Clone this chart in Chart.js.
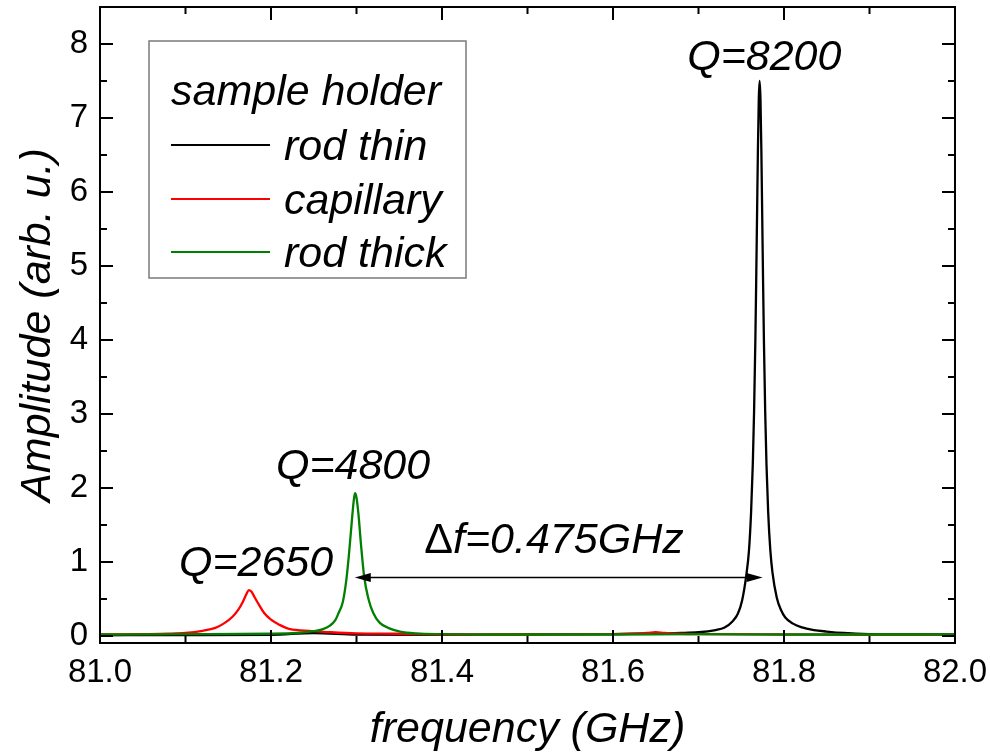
<!DOCTYPE html>
<html>
<head>
<meta charset="utf-8">
<script src="https://cdn.jsdelivr.net/npm/chart.js@4.4.1/dist/chart.umd.min.js"></script>
<style>
  html,body{margin:0;padding:0;background:#fff}
  canvas{display:block}
</style>
</head>
<body>
<canvas id="resChart" width="990" height="756"></canvas>
<script>
// ---- datos ----
const seriesNames  = ["rod thin", "capillary", "rod thick"];
const seriesColors = ["#000000", "#ff0000", "#008000"];

// rod thin (negro), pico en ~81.77 GHz
const freqThin = [81.00, 81.10, 81.20, 81.25, 81.30, 81.40, 81.50, 81.60, 81.65, 81.68, 81.70,
  81.72, 81.73, 81.74, 81.746, 81.751, 81.756, 81.759, 81.7615, 81.7635, 81.765, 81.7665,
  81.7675, 81.7685, 81.7695, 81.7705, 81.7715, 81.7725, 81.7735, 81.7745, 81.7755, 81.7765,
  81.778, 81.7795, 81.7815, 81.784, 81.7865, 81.7915, 81.7965, 81.8015, 81.81, 81.82,
  81.835, 81.85, 81.87, 81.90, 81.95, 82.00];
const ampThin = [0.01, 0.012, 0.015, 0.04, 0.02, 0.015, 0.02, 0.025, 0.035, 0.04, 0.05,
  0.08, 0.11, 0.20, 0.30, 0.48, 0.83, 1.15, 1.67, 2.32, 3.03, 4.00,
  4.81, 5.70, 6.58, 7.25, 7.50, 7.25, 6.58, 5.70, 4.81, 4.00,
  3.03, 2.32, 1.67, 1.16, 0.86, 0.52, 0.35, 0.25, 0.17, 0.12,
  0.08, 0.06, 0.04, 0.025, 0.02, 0.02];

// capillary (rojo), pico en ~81.17 GHz
const freqCap = [81.00, 81.05, 81.08, 81.10, 81.12, 81.135, 81.145, 81.155, 81.162, 81.167,
  81.171, 81.174, 81.177, 81.181, 81.186, 81.192, 81.20, 81.21, 81.22, 81.235, 81.25,
  81.27, 81.30, 81.35, 81.40, 81.50, 81.60, 81.64, 81.65, 81.66, 81.70, 81.80, 81.90, 82.00];
const ampCap = [0.02, 0.025, 0.03, 0.04, 0.07, 0.11, 0.17, 0.26, 0.36, 0.46,
  0.56, 0.62, 0.60, 0.52, 0.42, 0.31, 0.22, 0.15, 0.10, 0.075, 0.065,
  0.05, 0.035, 0.03, 0.02, 0.02, 0.025, 0.04, 0.05, 0.04, 0.025, 0.02, 0.015, 0.015];

// rod thick (verde), pico en ~81.30 GHz
const freqThick = [81.00, 81.10, 81.20, 81.23, 81.25, 81.26, 81.269, 81.275, 81.2787, 81.284,
  81.2877, 81.291, 81.294, 81.2965, 81.2982, 81.300, 81.3025, 81.305, 81.309, 81.314,
  81.3196, 81.327, 81.337, 81.351, 81.37, 81.40, 81.45, 81.60, 81.70, 81.80, 81.90, 82.00];
const ampThick = [0.02, 0.025, 0.03, 0.04, 0.065, 0.09, 0.14, 0.21, 0.30, 0.46,
  0.72, 1.08, 1.48, 1.80, 1.93, 1.87, 1.62, 1.27, 0.80, 0.50,
  0.31, 0.18, 0.11, 0.06, 0.035, 0.025, 0.02, 0.02, 0.025, 0.02, 0.02, 0.02];

const xTicks = [81.0, 81.2, 81.4, 81.6, 81.8, 82.0];
const xMinorTicks = [81.1, 81.3, 81.5, 81.7, 81.9];
const yTicks = [0, 1, 2, 3, 4, 5, 6, 7, 8];
const yMinorTicks = [0.5, 1.5, 2.5, 3.5, 4.5, 5.5, 6.5, 7.5];

// anotaciones (coordenadas en GHz / amplitud); pre = parte en letra recta
const qLabels = [
  {pre: "", text: "Q=8200", x: 81.777, y: 7.65},
  {pre: "", text: "Q=4800", x: 81.296, y: 2.12},
  {pre: "", text: "Q=2650", x: 81.1825, y: 0.81},
  {pre: "\u0394", text: "f=0.475GHz", x: 81.531, y: 1.12}
];
const arrowFrom = 81.298, arrowTo = 81.775, arrowY = 0.8;

const FONT = "'Liberation Sans', Arial, Helvetica, sans-serif";

function toXY(xs, ys){
  return xs.map((x, i)=> ({x, y: ys[i]}));
}

// marco con marcas hacia dentro en los cuatro lados
const framePlugin = {
  id: "frame",
  afterDraw(chart){
    const {ctx, chartArea: a, scales: {x, y}} = chart;
    ctx.save();
    ctx.strokeStyle = "#000";
    ctx.lineWidth = 2;
    ctx.strokeRect(a.left, a.top, a.right - a.left, a.bottom - a.top);
    ctx.beginPath();
    const tick = (vals, len)=>{
      vals.forEach(v=>{
        const px = x.getPixelForValue(v);
        ctx.moveTo(px, a.bottom); ctx.lineTo(px, a.bottom - len);
        ctx.moveTo(px, a.top);    ctx.lineTo(px, a.top + len);
      });
    };
    const tickY = (vals, len)=>{
      vals.forEach(v=>{
        const py = y.getPixelForValue(v);
        ctx.moveTo(a.left, py);  ctx.lineTo(a.left + len, py);
        ctx.moveTo(a.right, py); ctx.lineTo(a.right - len, py);
      });
    };
    tick(xTicks, 13); tick(xMinorTicks, 7);
    tickY(yTicks, 13); tickY(yMinorTicks, 7);
    ctx.stroke();
    ctx.restore();
  }
};

// textos Q=..., flecha Δf y leyenda
const annotPlugin = {
  id: "annot",
  afterDatasetsDraw(chart){
    const {ctx, chartArea: a, scales: {x, y}} = chart;
    const italic = `italic 43px ${FONT}`, upright = `43px ${FONT}`;
    ctx.save();
    ctx.fillStyle = "#000";
    ctx.textAlign = "left";
    ctx.textBaseline = "alphabetic";
    qLabels.forEach(l=>{
      ctx.font = upright;
      const w1 = ctx.measureText(l.pre).width;
      ctx.font = italic;
      const w2 = ctx.measureText(l.text).width;
      const x0 = x.getPixelForValue(l.x) - (w1 + w2) / 2;
      const py = y.getPixelForValue(l.y);
      ctx.font = upright;
      ctx.fillText(l.pre, x0, py);
      ctx.font = italic;
      ctx.fillText(l.text, x0 + w1, py);
    });

    // flecha doble
    const x1 = x.getPixelForValue(arrowFrom), x2 = x.getPixelForValue(arrowTo);
    const ay = Math.round(y.getPixelForValue(arrowY)) + 0.5;
    ctx.strokeStyle = "#000";
    ctx.lineWidth = 1.5;
    ctx.beginPath(); ctx.moveTo(x1 + 10, ay); ctx.lineTo(x2 - 10, ay); ctx.stroke();
    ctx.beginPath();
    ctx.moveTo(x1, ay); ctx.lineTo(x1 + 16, ay - 4.5); ctx.lineTo(x1 + 16, ay + 4.5); ctx.closePath();
    ctx.moveTo(x2, ay); ctx.lineTo(x2 - 16, ay - 4.5); ctx.lineTo(x2 - 16, ay + 4.5); ctx.closePath();
    ctx.fill();

    // leyenda
    const bx = a.left + 49, by = a.top + 34, bw = 317, bh = 237;
    ctx.fillStyle = "#fff";
    ctx.fillRect(bx, by, bw, bh);
    ctx.strokeStyle = "#7a7a7a";
    ctx.lineWidth = 1.5;
    ctx.strokeRect(bx, by, bw, bh);
    ctx.fillStyle = "#000";
    ctx.font = italic;
    ctx.fillText("sample holder", bx + 22, by + 64);
    const rows = [by + 104, by + 158, by + 211];
    seriesNames.forEach((n, i)=>{
      ctx.strokeStyle = seriesColors[i];
      ctx.lineWidth = 2;
      ctx.beginPath();
      ctx.moveTo(bx + 22, rows[i]); ctx.lineTo(bx + 121, rows[i]);
      ctx.stroke();
      ctx.fillText(n, bx + 135, rows[i] + 15);
    });
    ctx.restore();
  }
};

const datasets = [
  {x: freqThin,  y: ampThin},
  {x: freqCap,   y: ampCap},
  {x: freqThick, y: ampThick}
].map((s, i)=> ({
  label: seriesNames[i],
  data: toXY(s.x, s.y),
  borderColor: seriesColors[i],
  borderWidth: 2.3,
  pointRadius: 0,
  fill: false,
  cubicInterpolationMode: "monotone",
  order: 3 - i
}));

new Chart(document.getElementById("resChart"), {
  type: "line",
  data: {datasets},
  plugins: [framePlugin, annotPlugin],
  options: {
    responsive: false,
    animation: false,
    devicePixelRatio: 1,
    layout: {padding: {top: 7, right: 35, left: 0, bottom: 0}},
    plugins: {legend: {display: false}, tooltip: {enabled: false}},
    scales: {
      x: {
        type: "linear",
        min: 81.0, max: 82.0,
        afterFit: s=> { s.height = 113; s.paddingLeft = 0; s.paddingRight = 0; },
        afterBuildTicks: s=> { s.ticks = xTicks.map(v=> ({value: v})); },
        grid: {display: false, drawTicks: false},
        border: {display: false},
        ticks: {
          color: "#000",
          padding: 10,
          maxRotation: 0,
          font: {family: FONT, size: 33},
          callback: v=> Number(v).toFixed(1)
        },
        title: {
          display: true,
          text: "frequency (GHz)",
          color: "#000",
          padding: {top: 0, bottom: 0},
          font: {family: FONT, size: 43, style: "italic"}
        }
      },
      y: {
        type: "linear",
        min: -0.095, max: 8.5,
        afterFit: s=> { s.width = 100; s.paddingTop = 0; s.paddingBottom = 0; },
        afterBuildTicks: s=> { s.ticks = yTicks.map(v=> ({value: v})); },
        grid: {display: false, drawTicks: false},
        border: {display: false},
        ticks: {
          color: "#000",
          padding: 12,
          font: {family: FONT, size: 33},
          callback: v=> String(v)
        },
        title: {
          display: true,
          text: "Amplitude (arb. u.)",
          color: "#000",
          padding: {top: 12, bottom: 0},
          font: {family: FONT, size: 43, style: "italic"}
        }
      }
    }
  }
});
</script>
</body>
</html>
